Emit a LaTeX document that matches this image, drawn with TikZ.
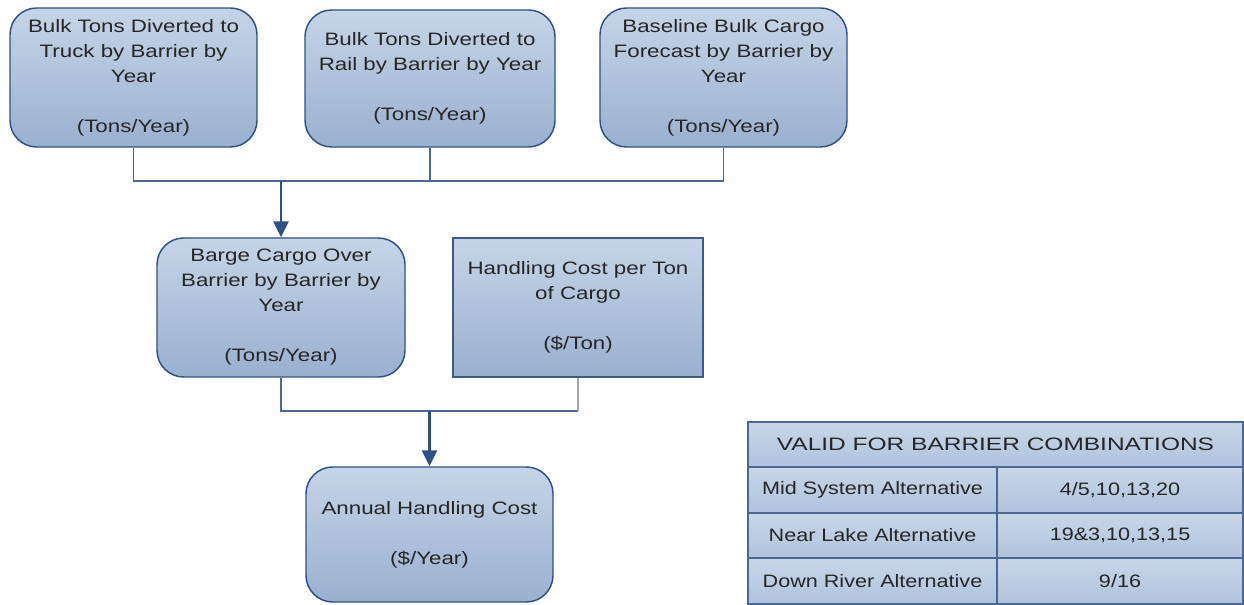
\documentclass[tikz,border=0pt]{standalone}
\usepackage{fontspec}
\setmainfont{Liberation Sans}[FakeStretch=1.24]
\newfontfamily\tabfont{Liberation Sans}[FakeStretch=1.2]
\newfontfamily\headfont{Liberation Sans}[FakeStretch=1.36]
\usetikzlibrary{arrows.meta}
\definecolor{boxtop}{HTML}{C6D4E7}
\definecolor{boxbot}{HTML}{9AB0D0}
\definecolor{edge}{HTML}{2E5088}
\definecolor{wire}{HTML}{4A6894}
\definecolor{celltop}{HTML}{C9D6E8}
\definecolor{cellbot}{HTML}{AFC2DD}
\begin{document}
\begin{tikzpicture}[x=0.75pt,y=-0.75pt,
  txt/.style={font=\fontsize{13.5}{18.75}\selectfont, text=black!85, align=center},
  rbox/.style={txt, draw=edge, line width=1.1pt, rounded corners=20pt, top color=boxtop, bottom color=boxbot, inner sep=0pt},
  sbox/.style={txt, draw=edge!80!gray, line width=1.1pt, top color=boxtop, bottom color=boxbot, inner sep=0pt},
  wirestyle/.style={draw=wire, line width=1.3pt},
  arr/.style={draw=edge, line width=1.6pt, -{Triangle[width=11.5pt,length=12pt]}},
  cell/.style={txt, font=\tabfont\fontsize{13.5}{18.75}\selectfont, draw=wire, line width=1pt, top color=celltop, bottom color=cellbot, inner sep=0pt},
  headcell/.style={cell, font=\headfont\fontsize{13.5}{18.75}\selectfont}
]
\useasboundingbox (0,0) rectangle (1244,605);

\node[rbox, minimum width=185.25pt, minimum height=104.25pt] (b1) at (133.5,77.5)
  {Bulk Tons Diverted to\\Truck by Barrier by\\Year\\[18.75pt](Tons/Year)};
\node[rbox, minimum width=187.5pt, minimum height=102.75pt] (b2) at (430,78.5)
  {Bulk Tons Diverted to\\Rail by Barrier by Year\\[18.75pt](Tons/Year)};
\node[rbox, minimum width=185.25pt, minimum height=104.25pt] (b3) at (723.5,77.5)
  {Baseline Bulk Cargo\\Forecast by Barrier by\\Year\\[18.75pt](Tons/Year)};

\node[rbox, minimum width=186pt, minimum height=104.25pt] (b4) at (281,307.5)
  {Barge Cargo Over\\Barrier by Barrier by\\Year\\[18.75pt](Tons/Year)};
\node[sbox, minimum width=187.5pt, minimum height=104.25pt] (b5) at (578,307.5)
  {Handling Cost per Ton\\of Cargo\\[18.75pt](\$/Ton)};

\node[rbox, minimum width=185.25pt, minimum height=101.25pt] (b6) at (429.5,534.5)
  {Annual Handling Cost\\[18.75pt](\$/Year)};

% connectors top
\coordinate (h1) at (0,181);
\draw[wirestyle] (b1.south) |- (h1 -| b3.south) -- (b3.south);
\draw[wirestyle] (b2.south) -- (b2.south |- h1);
\draw[arr] (b4.north |- h1) -- (b4.north);

% connectors middle
\coordinate (h2) at (0,411);
\draw[wirestyle] (b4.south) |- (h2 -| b5.south);
\draw[draw=gray!70, line width=1.6pt] (b5.south) -- (b5.south |- h2);
\draw[arr] (b6.north |- h2) -- (b6.north);

% table
\node[headcell, minimum width=371.25pt, minimum height=33.75pt] (th) at (995.5,444.5) {VALID FOR BARRIER COMBINATIONS};
\node[cell, minimum width=186.75pt, minimum height=34.5pt] (r1a) at (872.5,490) {Mid System Alternative};
\node[cell, minimum width=184.5pt, minimum height=34.5pt] (r1b) at (1120,490) {4/5,10,13,20};
\node[cell, minimum width=186.75pt, minimum height=33.75pt] (r2a) at (872.5,535.5) {Near Lake Alternative};
\node[cell, minimum width=184.5pt, minimum height=33.75pt] (r2b) at (1120,535.5) {19\&3,10,13,15};
\node[cell, minimum width=186.75pt, minimum height=34.5pt] (r3a) at (872.5,581) {Down River Alternative};
\node[cell, minimum width=184.5pt, minimum height=34.5pt] (r3b) at (1120,581) {9/16};
\end{tikzpicture}
\end{document}
